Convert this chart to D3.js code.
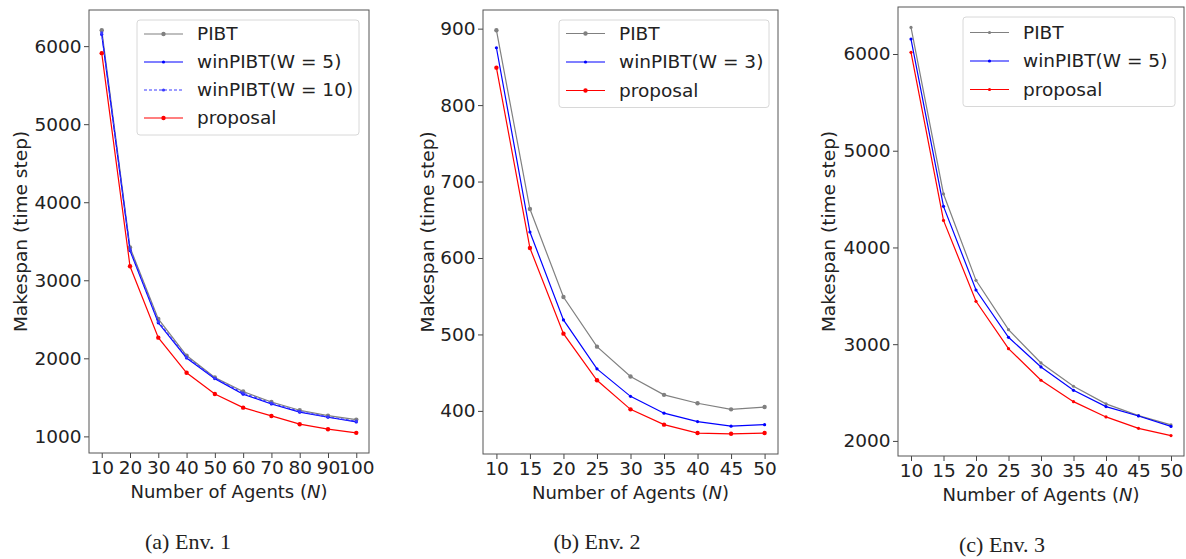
<!DOCTYPE html>
<html>
<head>
<meta charset="utf-8">
<script src="https://cdn.jsdelivr.net/npm/d3@7"></script>
<style>
  body { margin: 0; background: #fff; }
  svg { display: block; font-family: "DejaVu Sans", sans-serif; }
  .caption { font-family: "Liberation Serif", "Times New Roman", serif; font-size: 22px; fill: #222; }
</style>
</head>
<body>
<svg id="chart" width="1186" height="559"></svg>
<script>
// ---- data ----
const env1N = [10, 20, 30, 40, 50, 60, 70, 80, 90, 100];
const env1Pibt     = [6205, 3420, 2505, 2035, 1755, 1575, 1440, 1335, 1265, 1215];
const env1Win5     = [6150, 3380, 2455, 2005, 1740, 1540, 1415, 1310, 1245, 1185];
const env1Win10    = [6170, 3395, 2470, 2015, 1745, 1555, 1425, 1320, 1250, 1195];
const env1Proposal = [5910, 3180, 2265, 1815, 1543, 1368, 1262, 1156, 1092, 1045];

const env2N = [10, 15, 20, 25, 30, 35, 40, 45, 50];
const env2Pibt     = [898, 664, 549, 484, 445, 421, 410, 402, 405];
const env2Win3     = [875, 634, 519, 455, 419, 397, 386, 380, 382];
const env2Proposal = [849, 613, 501, 440, 402, 382, 371, 370, 371];

const env3N = [10, 15, 20, 25, 30, 35, 40, 45, 50];
const env3Pibt     = [6275, 4553, 3660, 3150, 2806, 2565, 2383, 2262, 2165];
const env3Win5     = [6155, 4425, 3560, 3071, 2765, 2523, 2355, 2258, 2150];
const env3Proposal = [6017, 4280, 3443, 2954, 2627, 2406, 2248, 2130, 2055];

const env1YTicks = [1000, 2000, 3000, 4000, 5000, 6000];
const env2YTicks = [400, 500, 600, 700, 800, 900];
const env3YTicks = [2000, 3000, 4000, 5000, 6000];

const captions = ["(a) Env. 1", "(b) Env. 2", "(c) Env. 3"];

// ---- panel layout ----
const panels = [
  {
    n: env1N, yTicks: env1YTicks, caption: captions[0],
    box: { left: 89, right: 369, top: 10, bottom: 453 },
    yLabelX: 21, captionX: 188, captionY: 549,
    legend: { left: 137, top: 20, right: 359, rowY: 34, rowH: 28 },
    series: [
      { name: "PIBT", values: env1Pibt, color: "#808080", r: 2.2 },
      { name: "winPIBT(W = 5)", values: env1Win5, color: "#0000ff", r: 1.6 },
      { name: "winPIBT(W = 10)", values: env1Win10, color: "#3a3aff", r: 1.6, dash: "3,2" },
      { name: "proposal", values: env1Proposal, color: "#ff0000", r: 2.2 }
    ]
  },
  {
    n: env2N, yTicks: env2YTicks, caption: captions[1],
    box: { left: 483, right: 778, top: 10, bottom: 454 },
    yLabelX: 428, captionX: 597, captionY: 549,
    legend: { left: 559, top: 20, right: 769, rowY: 33.5, rowH: 28.5 },
    series: [
      { name: "PIBT", values: env2Pibt, color: "#808080", r: 2.2 },
      { name: "winPIBT(W = 3)", values: env2Win3, color: "#0000ff", r: 1.6 },
      { name: "proposal", values: env2Proposal, color: "#ff0000", r: 2.2 }
    ]
  },
  {
    n: env3N, yTicks: env3YTicks, caption: captions[2],
    box: { left: 898, right: 1184, top: 7, bottom: 456 },
    yLabelX: 829, captionX: 1002, captionY: 552,
    legend: { left: 963, top: 17, right: 1175, rowY: 32.5, rowH: 28.5 },
    series: [
      { name: "PIBT", values: env3Pibt, color: "#808080", r: 1.6 },
      { name: "winPIBT(W = 5)", values: env3Win5, color: "#0000ff", r: 1.6 },
      { name: "proposal", values: env3Proposal, color: "#ff0000", r: 1.6 }
    ]
  }
];

const svg = d3.select("#chart");

// matplotlib-like 5% margins round the data
function padded(extent) {
  const pad = (extent[1] - extent[0]) * 0.05;
  return [extent[0] - pad, extent[1] + pad];
}

panels.forEach(p => {
  const b = p.box;
  const allValues = p.series.flatMap(s => s.values);

  const x = d3.scaleLinear()
    .domain(padded(d3.extent(p.n)))
    .range([b.left, b.right]);
  const y = d3.scaleLinear()
    .domain(padded(d3.extent(allValues)))
    .range([b.bottom, b.top]);

  const g = svg.append("g");

  // axes
  const xAxis = g.append("g")
    .attr("transform", `translate(0,${b.bottom})`)
    .call(d3.axisBottom(x).tickValues(p.n).tickFormat(d3.format("d")).tickSize(5).tickPadding(3));
  const yAxis = g.append("g")
    .attr("transform", `translate(${b.left},0)`)
    .call(d3.axisLeft(y).tickValues(p.yTicks).tickFormat(d3.format("d")).tickSize(5).tickPadding(2.5));
  [xAxis, yAxis].forEach(a => {
    a.attr("font-family", "DejaVu Sans, sans-serif").attr("font-size", 18.5);
    a.select(".domain").remove();
    a.selectAll(".tick line").attr("stroke", "#444");
    a.selectAll(".tick text").attr("fill", "#222");
  });

  // frame
  g.append("rect")
    .attr("x", b.left)
    .attr("y", b.top)
    .attr("width", b.right - b.left)
    .attr("height", b.bottom - b.top)
    .attr("fill", "none")
    .attr("stroke", "#555")
    .attr("stroke-width", 1);

  // series
  const line = d3.line()
    .x((d, i) => x(p.n[i]))
    .y(d => y(d));

  p.series.forEach(s => {
    g.append("path")
      .datum(s.values)
      .attr("d", line)
      .attr("fill", "none")
      .attr("stroke", s.color)
      .attr("stroke-width", 1.2)
      .attr("stroke-dasharray", s.dash || null);

    g.selectAll(null)
      .data(s.values)
      .enter()
      .append("circle")
      .attr("cx", (d, i) => x(p.n[i]))
      .attr("cy", d => y(d))
      .attr("r", s.r)
      .attr("fill", s.color);
  });

  // legend
  const L = p.legend;
  const legendBottom = L.rowY + (p.series.length - 1) * L.rowH + 17;
  g.append("rect")
    .attr("x", L.left)
    .attr("y", L.top)
    .attr("width", L.right - L.left)
    .attr("height", legendBottom - L.top)
    .attr("rx", 3)
    .attr("fill", "#fff")
    .attr("fill-opacity", 0.85)
    .attr("stroke", "#d8d8d8");

  p.series.forEach((s, i) => {
    const ly = L.rowY + i * L.rowH;
    const lx0 = L.left + 7, lx1 = L.left + 46;
    g.append("line")
      .attr("x1", lx0).attr("x2", lx1)
      .attr("y1", ly).attr("y2", ly)
      .attr("stroke", s.color)
      .attr("stroke-width", 1.2)
      .attr("stroke-dasharray", s.dash || null);
    g.append("circle")
      .attr("cx", (lx0 + lx1) / 2)
      .attr("cy", ly)
      .attr("r", s.r)
      .attr("fill", s.color);
    g.append("text")
      .attr("x", L.left + 60)
      .attr("y", ly)
      .attr("dy", "0.35em")
      .attr("font-size", 18.5)
      .attr("fill", "#222")
      .text(s.name);
  });

  // axis titles
  const xt = g.append("text")
    .attr("x", (b.left + b.right) / 2)
    .attr("y", b.bottom + 45)
    .attr("text-anchor", "middle")
    .attr("font-size", 18)
    .attr("fill", "#222");
  xt.append("tspan").text("Number of Agents (");
  xt.append("tspan").attr("font-style", "italic").text("N");
  xt.append("tspan").text(")");

  g.append("text")
    .attr("transform", `translate(${p.yLabelX},${(b.top + b.bottom) / 2}) rotate(-90)`)
    .attr("text-anchor", "middle")
    .attr("dy", "0.35em")
    .attr("font-size", 18.5)
    .attr("fill", "#222")
    .text("Makespan (time step)");

  // caption
  g.append("text")
    .attr("class", "caption")
    .attr("x", p.captionX)
    .attr("y", p.captionY)
    .attr("text-anchor", "middle")
    .text(p.caption);
});
</script>
</body>
</html>
